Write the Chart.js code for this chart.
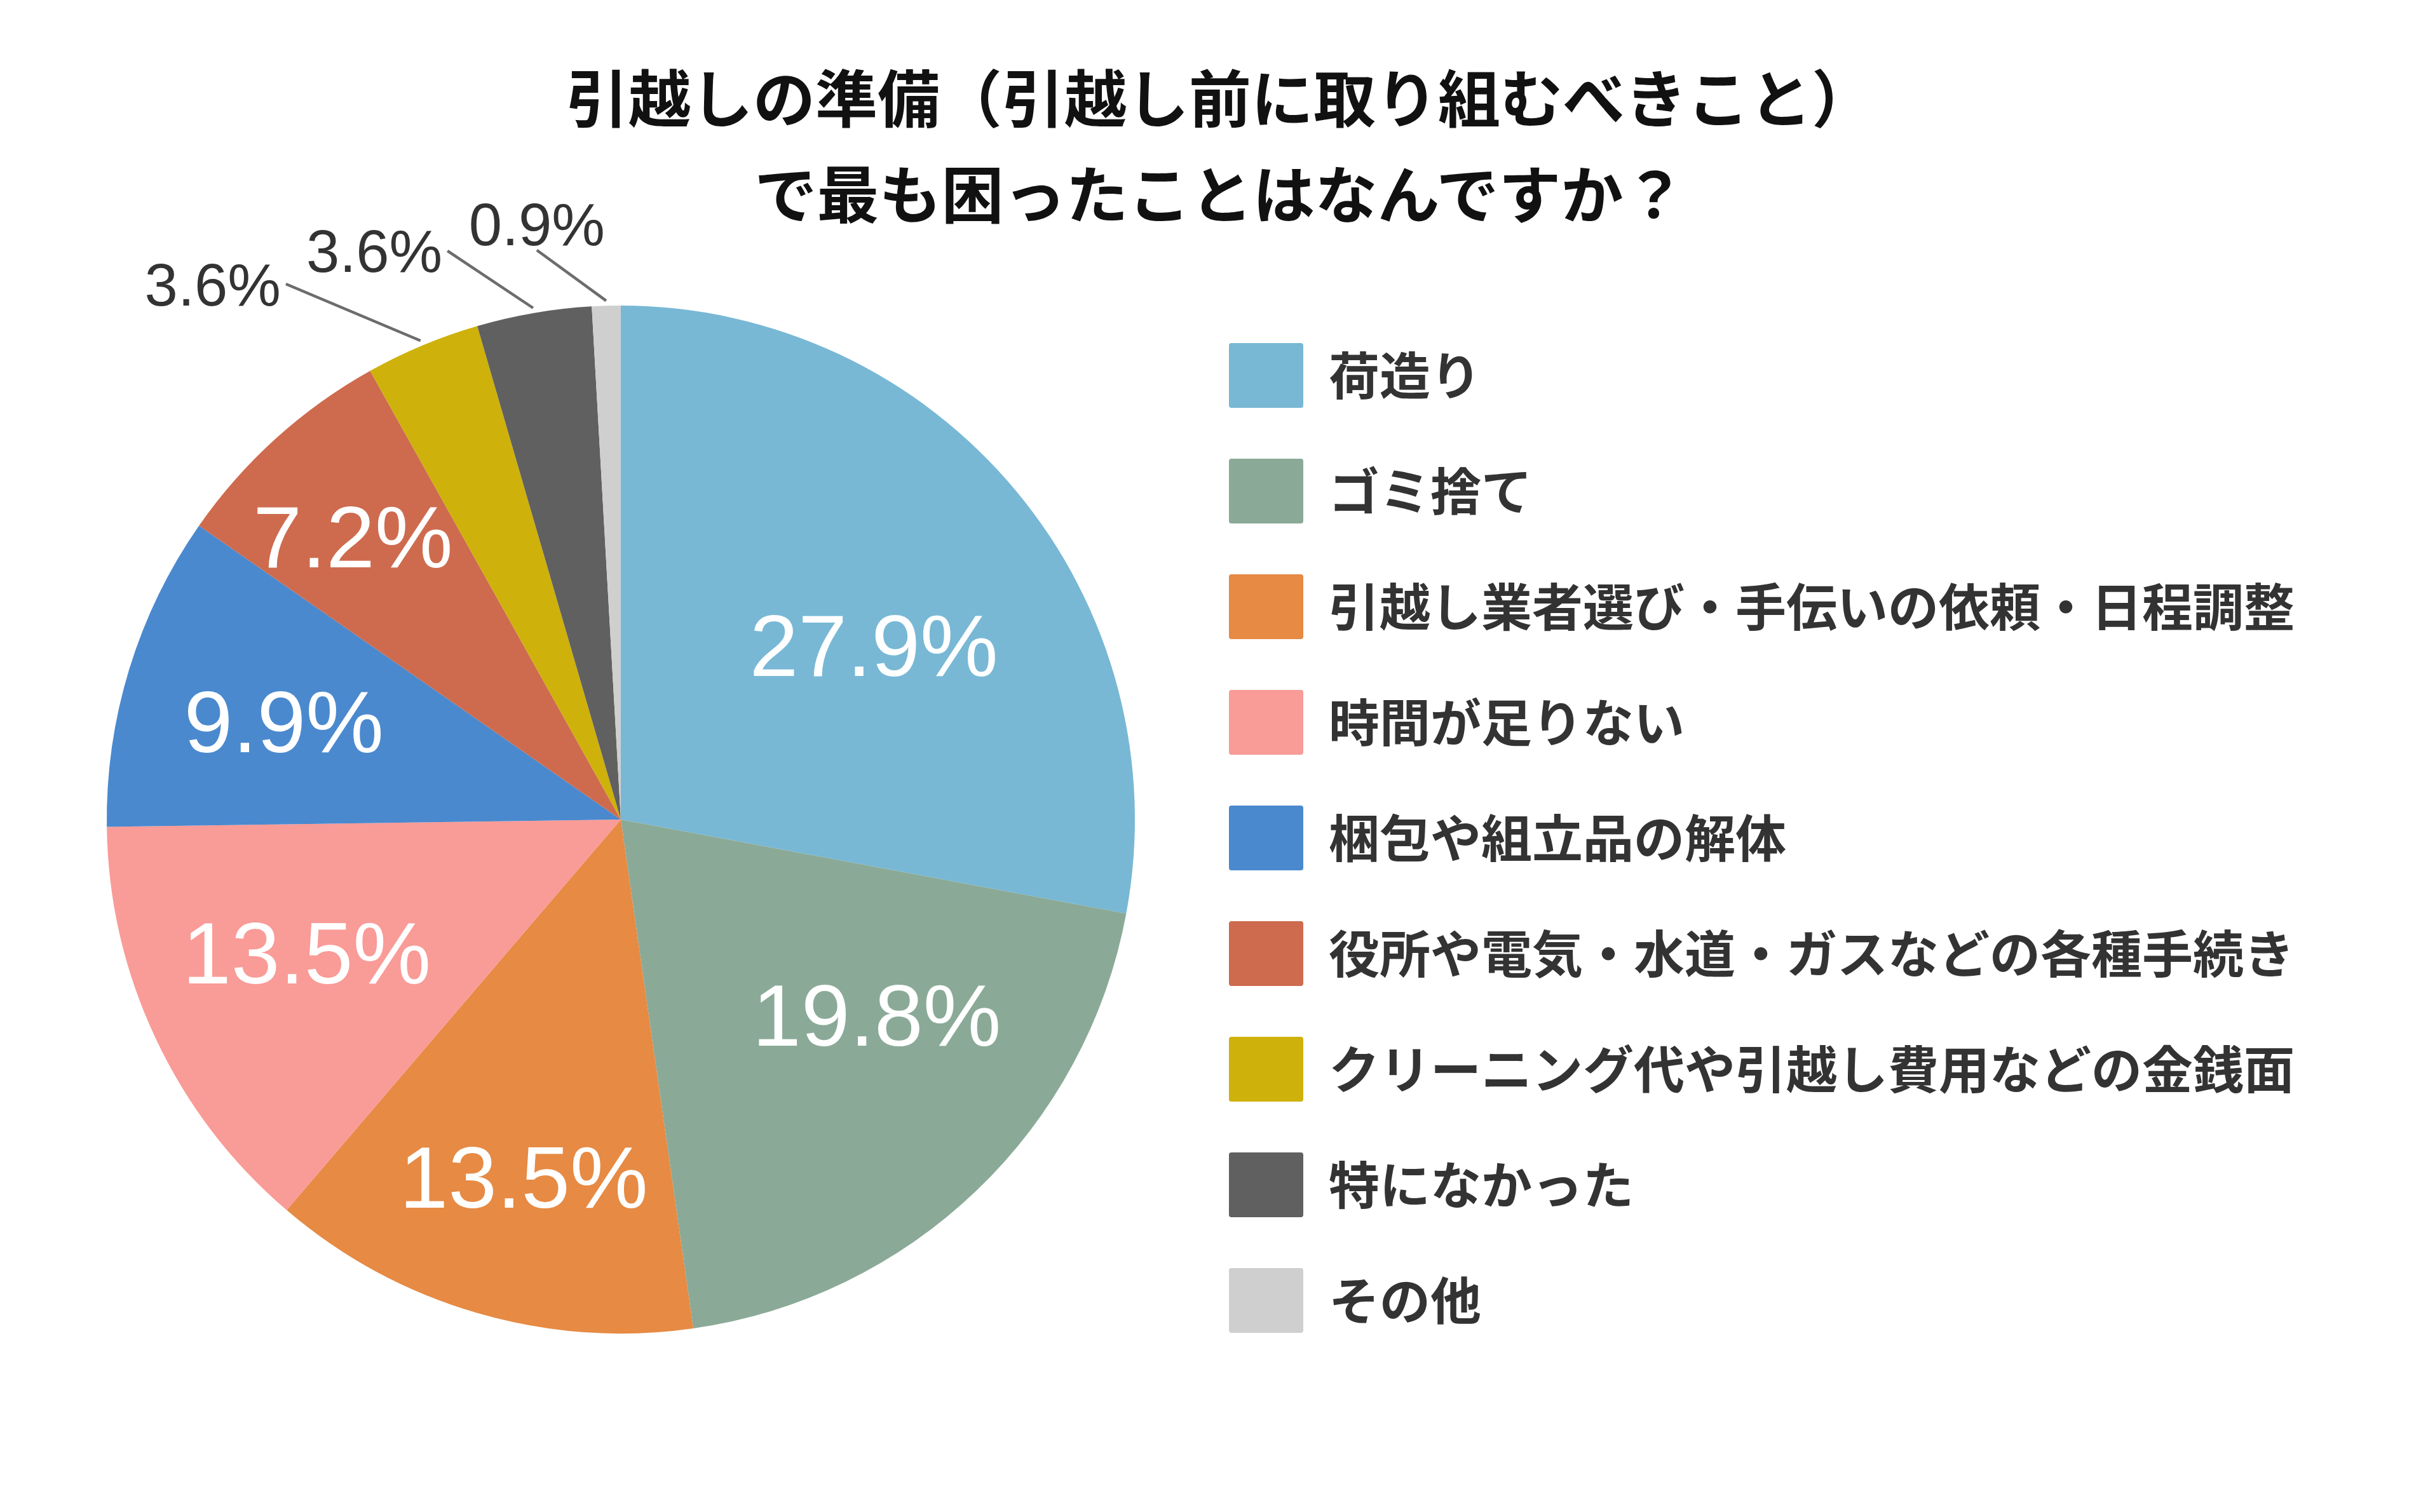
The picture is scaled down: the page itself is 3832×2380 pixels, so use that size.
<!DOCTYPE html>
<html lang="ja">
<head>
<meta charset="utf-8">
<title>引越しの準備で最も困ったこと</title>
<script src="https://cdn.jsdelivr.net/npm/chart.js@4.4.1/dist/chart.umd.min.js"></script>
<style>
  html, body { margin: 0; padding: 0; background: #fff; overflow: hidden; }
  #wrap { position: relative; width: 3832px; height: 2380px; }
  #chart { position: absolute; left: 0; top: 0; }
  #title {
    position: absolute; left: 8px; top: 74px; width: 3824px;
    text-align: center; color: #111;
    font: bold 98px/151px "Noto Sans CJK JP", sans-serif;
  }
</style>
</head>
<body>
<div id="wrap">
  <canvas id="chart" width="3832" height="2380"></canvas>
  <div id="title">引越しの準備（引越し前に取り組むべきこと）<br>で最も困ったことはなんですか？</div>
</div>
<script>
const categories = [
    '荷造り',
    'ゴミ捨て',
    '引越し業者選び・手伝いの依頼・日程調整',
    '時間が足りない',
    '梱包や組立品の解体',
    '役所や電気・水道・ガスなどの各種手続き',
    'クリーニング代や引越し費用などの金銭面',
    '特になかった',
    'その他'
];
const shares = [27.9, 19.8, 13.5, 13.5, 9.9, 7.2, 3.6, 3.6, 0.9];
const sliceColors = ['#78b8d5', '#8aaa97', '#e68a44', '#f99b97', '#4a89ce', '#ce6b4e', '#ceb10b', '#606060', '#cfcfcf'];

// where each % label sits, relative to its slice (angle shift in degrees, fraction of radius)
const labelShift = [5.1, -8.9, -1.0, 2.3, -0.7, -1.2, -14.6, -13.7, -6.4];
const labelDist = [0.598, 0.626, 0.72, 0.663, 0.683, 0.759, 1.31, 1.206, 1.171];

const pctLabels = {
    id: 'pctLabels',
    afterDatasetsDraw(chart) {
        const ctx = chart.ctx;
        const arcs = chart.getDatasetMeta(0).data;
        arcs.forEach((arc, i) => {
            const p = arc.getProps(['x', 'y', 'startAngle', 'endAngle', 'outerRadius'], true);
            const mid = (p.startAngle + p.endAngle) / 2;
            const a = mid + labelShift[i] * Math.PI / 180;
            const rr = p.outerRadius * labelDist[i];
            const lx = p.x + Math.cos(a) * rr;
            const ly = p.y + Math.sin(a) * rr;
            const text = shares[i].toFixed(1) + '%';
            const outside = labelDist[i] > 1;
            const size = outside ? 94 : 138;

            ctx.save();
            ctx.font = size + 'px "Liberation Sans", Arial, sans-serif';
            ctx.textAlign = 'center';
            ctx.textBaseline = 'alphabetic';
            if (outside) {
                // leader line from the rim to the nearest side of the label
                const w = ctx.measureText(text).width;
                const h = size * 0.72;
                const m = 8;
                const ex = p.x + Math.cos(mid) * (p.outerRadius + 8);
                const ey = p.y + Math.sin(mid) * (p.outerRadius + 8);
                const left = lx - w / 2 - m, right = lx + w / 2 + m;
                const top = ly - h / 2 - m, bottom = ly + h / 2 + m;
                let tx, ty;
                if (ex >= left && ex <= right) {
                    tx = lx;
                    ty = ey > ly ? bottom : top;
                } else {
                    tx = ex > right ? right : left;
                    ty = ly;
                }
                ctx.strokeStyle = '#6c6c6c';
                ctx.lineWidth = 4.5;
                ctx.beginPath();
                ctx.moveTo(ex, ey);
                ctx.lineTo(tx, ty);
                ctx.stroke();
                ctx.fillStyle = '#333';
            } else {
                ctx.fillStyle = '#fff';
            }
            // centre the digits (cap height ~0.716em) on the label point
            ctx.fillText(text, lx, ly + size * 0.358);
            ctx.restore();
        });
    }
};

new Chart(document.getElementById('chart'), {
    type: 'pie',
    data: {
        labels: categories,
        datasets: [{
            data: shares,
            backgroundColor: sliceColors,
            borderWidth: 0,
            radius: 809
        }]
    },
    options: {
        responsive: false,
        devicePixelRatio: 1,
        animation: false,
        layout: { padding: { top: 402, bottom: 202, left: 100, right: 211 } },
        plugins: {
            tooltip: { enabled: false },
            legend: {
                position: 'right',
                align: 'end',
                maxWidth: 2000,
                labels: {
                    boxWidth: 117,
                    boxHeight: 102,
                    padding: 80,
                    color: '#333',
                    useBorderRadius: true,
                    borderRadius: 4,
                    font: { family: '"Noto Sans CJK JP", sans-serif', size: 80, weight: 'bold' }
                }
            }
        }
    },
    plugins: [pctLabels]
});
</script>
</body>
</html>
